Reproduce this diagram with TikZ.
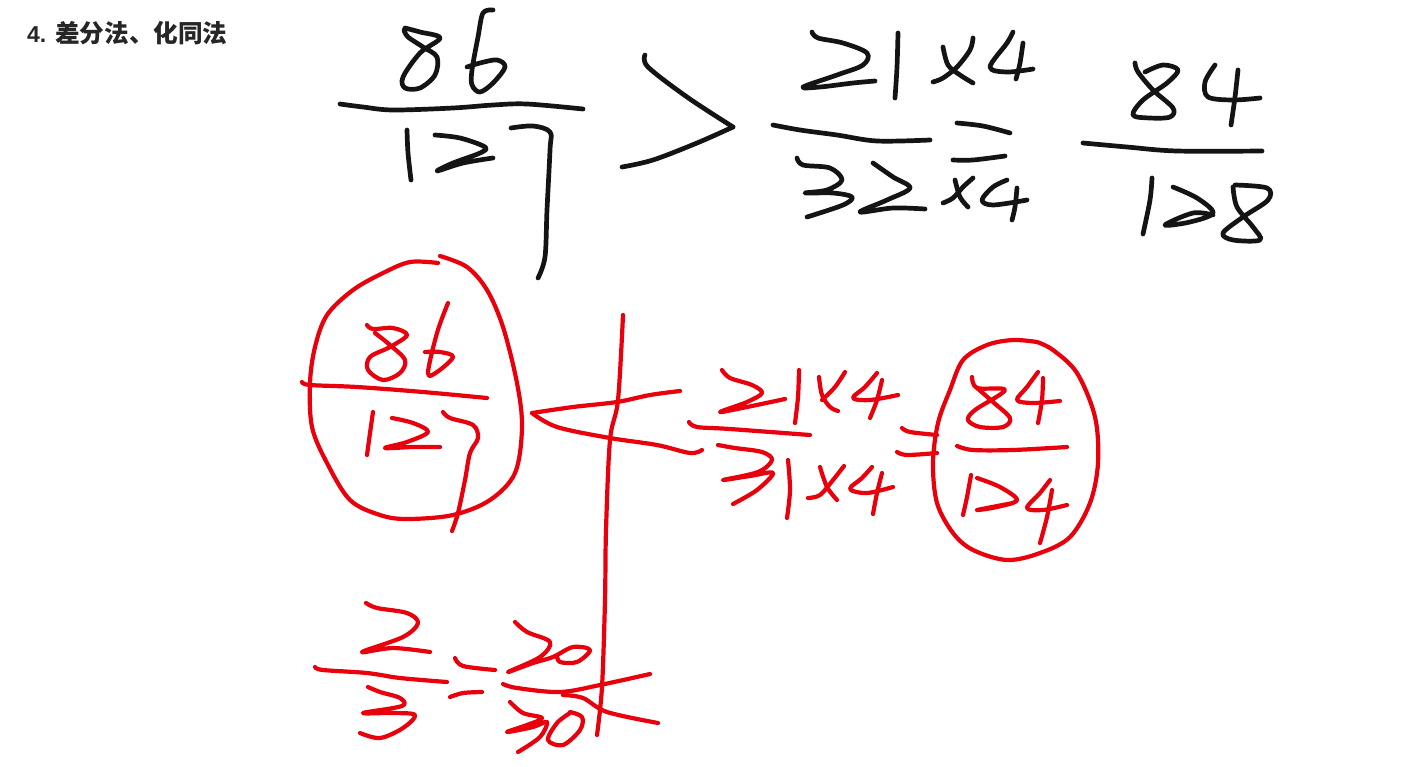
\documentclass[tikz,border=0pt]{standalone}
\usepackage{fontspec}
\setmainfont{Liberation Sans}
\newfontfamily\cjkbold[Script=CJK]{Noto Sans CJK SC Bold}
\usepackage{tikz}
\definecolor{inkred}{RGB}{232,0,12}
\tikzset{
	blackpen/.style={line width=4.7pt, color=black!92, line cap=round, line join=round},
	redpen/.style={line width=4.2pt, color=inkred, line cap=round, line join=round},
}
\def\inkline[#1]#2{\draw[#1] plot[smooth, tension=0.55] coordinates {#2};}

\begin{document}
\begin{tikzpicture}[x=1pt, y=-1pt]
			%%%%% START %%%%%
			\useasboundingbox (0, 0) rectangle (1405, 766);
			\fill[white] (0, 0) rectangle (1405, 766);
			
			\node[anchor=west, inner sep=0pt, font=\fontsize{23}{24}\selectfont\bfseries, color=black!85] (title) at (27, 33) {4.\hspace{9pt}{\cjkbold\fontsize{24.6}{25}\selectfont 差分法、化同法}};
			
			% 86/127
			\inkline[blackpen]{(405,28) (420,32) (440,38) (420,53) (403,77) (405,88) (420,88) (435,75) (437,57) (423,47) (408,37) (404,30)}
			\inkline[blackpen]{(493,10) (483,13) (478,37) (472,70) (472,85) (480,92) (493,83) (505,67) (497,60) (480,63) (467,67)}
			\inkline[blackpen]{(340,104) (363,107) (393,110) (453,108) (493,105) (527,104) (583,109)}
			\inkline[blackpen]{(407,130) (408,153) (411,180)}
			\inkline[blackpen]{(435,135) (460,138) (485,147) (480,153) (453,163) (437,171) (463,163) (493,158)}
			\inkline[blackpen]{(511,128) (533,126) (550,132) (550,150) (547,210) (545,257) (538,278)}
			
			% greater than
			\inkline[blackpen]{(645,55) (648,67) (687,97) (733,127)}
			\inkline[blackpen]{(733,127) (697,143) (653,160) (622,167)}
			
			% 21x4/32x4
			\inkline[blackpen]{(812,32) (818,38) (843,43) (867,53) (863,65) (837,75) (803,87) (820,87) (853,83) (875,81)}
			\inkline[blackpen]{(898,33) (897,67) (895,98)}
			\inkline[blackpen]{(973,38) (970,50) (957,67) (943,78) (933,82)}
			\inkline[blackpen]{(943,47) (948,65) (960,75) (973,83)}
			\inkline[blackpen]{(1013,32) (1007,43) (990,67) (1007,72) (1033,69)}
			\inkline[blackpen]{(1023,43) (1020,63) (1016,79)}
			\inkline[blackpen]{(773,125) (800,130) (837,135) (877,141) (930,140)}
			\inkline[blackpen]{(957,123) (983,126) (1010,133)}
			\inkline[blackpen]{(953,160) (973,160) (1005,156)}
			\inkline[blackpen]{(797,158) (803,165) (830,168) (842,180) (827,190) (805,193) (833,193) (852,197) (843,205) (807,217)}
			\inkline[blackpen]{(873,163) (893,177) (910,188) (887,200) (860,212) (893,208) (925,209)}
			\inkline[blackpen]{(973,178) (963,187) (953,198) (943,203)}
			\inkline[blackpen]{(955,180) (960,197) (968,207)}
			\inkline[blackpen]{(1007,180) (993,187) (982,200) (993,205) (1027,200)}
			\inkline[blackpen]{(1017,188) (1015,207) (1012,220)}
			
			% 84/128
			\inkline[blackpen]{(1135,63) (1138,72) (1153,90) (1173,108) (1170,117) (1150,118) (1133,115) (1143,100) (1167,83) (1178,70) (1163,65) (1145,72)}
			\inkline[blackpen]{(1215,65) (1205,82) (1208,97) (1233,100) (1260,98)}
			\inkline[blackpen]{(1238,70) (1235,97) (1231,125)}
			\inkline[blackpen]{(1083,143) (1127,147) (1177,151) (1262,151)}
			\inkline[blackpen]{(1152,178) (1150,200) (1143,234)}
			\inkline[blackpen]{(1173,187) (1197,198) (1213,213) (1190,222) (1165,225) (1193,213) (1213,215)}
			\inkline[blackpen]{(1235,185) (1267,188) (1268,200) (1243,217) (1223,233) (1233,240) (1260,240) (1253,227) (1237,207) (1233,187)}
			
			% red 86/127 in its ring
			\inkline[redpen]{(438,263) (410,262) (383,273) (353,290) (327,315) (315,347) (310,383) (312,427) (327,463) (350,500) (380,515) (407,519) (453,515) (490,500) (515,473) (522,427) (517,383) (503,327) (487,290) (467,267) (440,256)}
			\inkline[redpen]{(367,325) (373,329) (393,328) (407,335) (390,347) (370,357) (368,370) (383,380) (400,373) (405,360) (390,345) (375,333)}
			\inkline[redpen]{(448,303) (437,333) (428,373) (437,372) (453,357) (440,352) (425,352)}
			\inkline[redpen]{(302,382) (310,385) (357,387) (423,392) (487,398)}
			\inkline[redpen]{(373,412) (370,433) (367,455)}
			\inkline[redpen]{(392,418) (413,423) (428,432) (407,442) (385,448) (413,447) (440,447)}
			\inkline[redpen]{(443,412) (450,418) (473,425) (478,438) (470,453) (465,480) (458,513) (452,531)}
			
			% red less than and the long stroke
			\inkline[redpen]{(680,391) (650,395) (617,402) (573,407) (532,413)}
			\inkline[redpen]{(532,413) (557,427) (610,438) (657,445) (690,453) (702,450)}
			\inkline[redpen]{(623,315) (618,400) (610,440) (606,530) (605,600) (602,687) (597,735)}
			
			% red 21x4/31x4
			\inkline[redpen]{(722,370) (730,378) (752,385) (762,393) (747,402) (720,412) (747,407) (785,399)}
			\inkline[redpen]{(799,370) (798,397) (795,423)}
			\inkline[redpen]{(845,372) (835,387) (822,400)}
			\inkline[redpen]{(819,377) (822,395) (830,407) (838,411)}
			\inkline[redpen]{(877,373) (865,387) (853,398) (870,400) (898,395)}
			\inkline[redpen]{(882,380) (877,400) (870,418)}
			\inkline[redpen]{(689,422) (697,427) (730,429) (810,435)}
			\inkline[redpen]{(718,445) (735,448) (762,452) (772,460) (758,472) (723,480) (750,476) (773,473) (757,490) (733,504)}
			\inkline[redpen]{(788,460) (790,490) (787,518)}
			\inkline[redpen]{(844,466) (833,480) (820,495) (808,498)}
			\inkline[redpen]{(820,467) (827,487) (837,500)}
			\inkline[redpen]{(872,467) (862,478) (850,489) (867,493) (893,487)}
			\inkline[redpen]{(882,473) (877,493) (873,514)}
			\inkline[redpen]{(902,428) (910,432) (937,435)}
			\inkline[redpen]{(897,452) (907,455) (937,453)}
			
			% red 84/124 in its ring
			\inkline[redpen]{(1037,342) (1013,340) (987,345) (963,360) (950,390) (938,423) (933,463) (937,503) (953,533) (973,550) (1007,560) (1040,553) (1070,537) (1090,503) (1098,463) (1095,417) (1077,373) (1053,350) (1037,342)}
			\inkline[redpen]{(972,377) (977,388) (1005,390) (975,410) (968,420) (980,427) (1003,427) (1010,418) (993,402) (977,388)}
			\inkline[redpen]{(1038,372) (1027,387) (1017,400) (1033,403) (1060,401)}
			\inkline[redpen]{(1043,378) (1042,400) (1038,423)}
			\inkline[redpen]{(957,446) (973,450) (1013,450) (1067,447)}
			\inkline[redpen]{(971,475) (967,497) (963,515)}
			\inkline[redpen]{(977,478) (1000,487) (1017,500) (997,507) (977,510) (1013,503)}
			\inkline[redpen]{(1050,480) (1040,493) (1027,508) (1043,510) (1067,505)}
			\inkline[redpen]{(1052,490) (1047,517) (1040,543)}
			
			% red 2/3 = 20/30
			\inkline[redpen]{(366,603) (377,608) (407,613) (418,623) (403,637) (362,652) (393,648) (430,652)}
			\inkline[redpen]{(315,667) (323,670) (367,673) (400,678) (447,682)}
			\inkline[redpen]{(368,687) (380,692) (400,698) (402,706) (363,713) (393,713) (415,715) (403,728) (380,738) (360,733)}
			\inkline[redpen]{(455,658) (463,666) (495,670)}
			\inkline[redpen]{(450,697) (463,693) (482,692)}
			\inkline[redpen]{(515,622) (527,632) (550,642) (540,657) (508,672) (533,663) (553,657) (573,647) (590,650) (577,662) (560,662) (557,655)}
			\inkline[redpen]{(503,684) (517,688) (560,692) (600,685) (650,674)}
			\inkline[redpen]{(563,695) (583,698) (607,712) (658,723)}
			\inkline[redpen]{(510,702) (523,713) (542,718) (527,725) (507,732) (533,727) (547,722) (540,737) (518,752)}
			\inkline[redpen]{(570,713) (557,723) (548,740) (563,745) (580,730) (582,717) (570,712)}
			
			%%%%% END %%%%%
		\end{tikzpicture}
\end{document}
